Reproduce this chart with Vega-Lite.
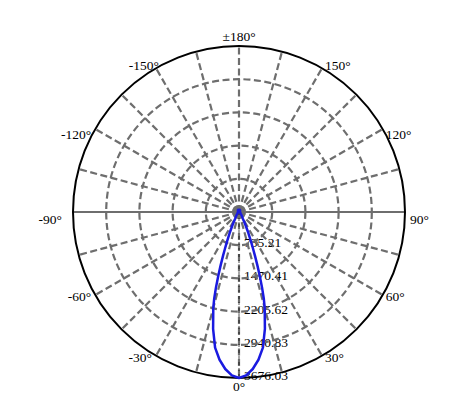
{
  "$schema": "https://vega.github.io/schema/vega-lite/v6.json",
  "description": "Polar luminous intensity distribution curve.",
  "width": 332,
  "height": 332,
  "autosize": "none",
  "padding": {"left": 73, "top": 46, "right": 71, "bottom": 39},
  "background": "white",
  "config": {"view": {"stroke": null}, "font": "Liberation Serif", "text": {"font": "Liberation Serif"}},
  "datasets": {
    "rings": [
      {"r": 735.21, "label": "735.21"},
      {"r": 1470.41, "label": "1470.41"},
      {"r": 2205.62, "label": "2205.62"},
      {"r": 2940.83, "label": "2940.83"},
      {"r": 3676.03, "label": "3676.03"}
    ],
    "spokes": [
      {"a": -165}, {"a": -150}, {"a": -135}, {"a": -120}, {"a": -105}, {"a": -90},
      {"a": -75}, {"a": -60}, {"a": -45}, {"a": -30}, {"a": -15}, {"a": 0},
      {"a": 15}, {"a": 30}, {"a": 45}, {"a": 60}, {"a": 75}, {"a": 90},
      {"a": 105}, {"a": 120}, {"a": 135}, {"a": 150}, {"a": 165}, {"a": 180}
    ],
    "angleLabels": [
      {"a": 180, "label": "±180°"},
      {"a": 150, "label": "150°"},
      {"a": 120, "label": "120°"},
      {"a": 90, "label": "90°"},
      {"a": 60, "label": "60°"},
      {"a": 30, "label": "30°"},
      {"a": 0, "label": "0°"},
      {"a": -30, "label": "-30°"},
      {"a": -60, "label": "-60°"},
      {"a": -90, "label": "-90°"},
      {"a": -120, "label": "-120°"},
      {"a": -150, "label": "-150°"}
    ],
    "curve": [
      {"a": -180, "I": 60}, {"a": -165, "I": 55}, {"a": -150, "I": 45},
      {"a": -135, "I": 35}, {"a": -120, "I": 25}, {"a": -105, "I": 20},
      {"a": -90, "I": 20}, {"a": -75, "I": 25}, {"a": -60, "I": 35},
      {"a": -45, "I": 55}, {"a": -40, "I": 75}, {"a": -35, "I": 110},
      {"a": -30, "I": 170}, {"a": -28, "I": 240}, {"a": -26, "I": 350},
      {"a": -24, "I": 510}, {"a": -22, "I": 720}, {"a": -21, "I": 860},
      {"a": -20, "I": 1040}, {"a": -19, "I": 1250}, {"a": -18, "I": 1480},
      {"a": -17, "I": 1740}, {"a": -16, "I": 1990}, {"a": -15, "I": 2200},
      {"a": -12.5, "I": 2650}, {"a": -10, "I": 3050}, {"a": -7.5, "I": 3300},
      {"a": -5, "I": 3490}, {"a": -2.5, "I": 3620}, {"a": 0, "I": 3676.03},
      {"a": 2.5, "I": 3620}, {"a": 5, "I": 3490}, {"a": 7.5, "I": 3300},
      {"a": 10, "I": 3050}, {"a": 12.5, "I": 2650}, {"a": 15, "I": 2200},
      {"a": 16, "I": 1990}, {"a": 17, "I": 1740}, {"a": 18, "I": 1480},
      {"a": 19, "I": 1250}, {"a": 20, "I": 1040}, {"a": 21, "I": 860},
      {"a": 22, "I": 720}, {"a": 24, "I": 510}, {"a": 26, "I": 350},
      {"a": 28, "I": 240}, {"a": 30, "I": 170}, {"a": 35, "I": 110},
      {"a": 40, "I": 75}, {"a": 45, "I": 55}, {"a": 60, "I": 35},
      {"a": 75, "I": 25}, {"a": 90, "I": 20}, {"a": 105, "I": 20},
      {"a": 120, "I": 25}, {"a": 135, "I": 35}, {"a": 150, "I": 45},
      {"a": 165, "I": 55}, {"a": 180, "I": 60}
    ]
  },
  "layer": [
    {
      "data": {"name": "rings"},
      "transform": [
        {"calculate": "0", "as": "cx"},
        {"calculate": "-datum.r", "as": "y"}
      ],
      "mark": {"type": "text", "font": "Liberation Serif", "align": "left", "baseline": "middle", "dx": 5, "dy": -2, "fontSize": 13.5, "color": "black"},
      "encoding": {
        "x": {"field": "cx", "type": "quantitative", "scale": {"domain": [-3676.03, 3676.03], "nice": false, "zero": false}, "axis": null},
        "y": {"field": "y", "type": "quantitative", "scale": {"domain": [-3676.03, 3676.03], "nice": false, "zero": false}, "axis": null},
        "text": {"field": "label", "type": "nominal"}
      }
    },
    {
      "data": {"name": "rings"},
      "transform": [
        {"filter": "datum.r < 3676"},
        {"calculate": "0", "as": "cx"}
      ],
      "mark": {"type": "point", "shape": "circle", "filled": false, "color": "#6e6e6e", "strokeWidth": 2.2, "strokeDash": [7, 3.5], "opacity": 1},
      "encoding": {
        "x": {"field": "cx", "type": "quantitative"},
        "y": {"field": "cx", "type": "quantitative"},
        "size": {"field": "r", "type": "quantitative", "scale": {"type": "pow", "exponent": 2, "domain": [0, 3676.03], "range": [0, 110224]}, "legend": null}
      }
    },
    {
      "data": {"name": "spokes"},
      "transform": [
        {"filter": "abs(datum.a) != 90"},
        {"calculate": "0", "as": "cx"},
        {"calculate": "3676.03 * sin(datum.a * PI / 180)", "as": "x2"},
        {"calculate": "-3676.03 * cos(datum.a * PI / 180)", "as": "y2"}
      ],
      "mark": {"type": "rule", "color": "#6e6e6e", "strokeWidth": 2.2, "strokeDash": [7, 3.5]},
      "encoding": {
        "x": {"field": "cx", "type": "quantitative"},
        "y": {"field": "cx", "type": "quantitative"},
        "x2": {"field": "x2"},
        "y2": {"field": "y2"}
      }
    },
    {
      "data": {"name": "spokes"},
      "transform": [
        {"filter": "abs(datum.a) == 90"},
        {"calculate": "0", "as": "cx"},
        {"calculate": "3676.03 * sin(datum.a * PI / 180)", "as": "x2"}
      ],
      "mark": {"type": "rule", "color": "#6e6e6e", "strokeWidth": 2.2},
      "encoding": {
        "x": {"field": "cx", "type": "quantitative"},
        "y": {"field": "cx", "type": "quantitative"},
        "x2": {"field": "x2"},
        "y2": {"field": "cx"}
      }
    },
    {
      "data": {"name": "spokes"},
      "transform": [
        {"filter": "datum.a == 0"},
        {"calculate": "0", "as": "cx"},
        {"calculate": "-3676.03 * cos(datum.a * PI / 180)", "as": "y2"}
      ],
      "mark": {"type": "rule", "color": "black", "strokeWidth": 0.7, "strokeDash": [3, 3]},
      "encoding": {
        "x": {"field": "cx", "type": "quantitative"},
        "y": {"field": "cx", "type": "quantitative"},
        "x2": {"field": "cx"},
        "y2": {"field": "y2"}
      }
    },
    {
      "data": {"name": "rings"},
      "transform": [
        {"filter": "datum.r >= 3676"},
        {"calculate": "0", "as": "cx"}
      ],
      "mark": {"type": "point", "shape": "circle", "filled": false, "color": "black", "strokeWidth": 2, "opacity": 1},
      "encoding": {
        "x": {"field": "cx", "type": "quantitative"},
        "y": {"field": "cx", "type": "quantitative"},
        "size": {"field": "r", "type": "quantitative", "scale": {"type": "pow", "exponent": 2, "domain": [0, 3676.03], "range": [0, 110224]}, "legend": null}
      }
    },
    {
      "data": {"name": "angleLabels"},
      "transform": [
        {"calculate": "3676.03 * sin(datum.a * PI / 180)", "as": "x"},
        {"calculate": "-3676.03 * cos(datum.a * PI / 180)", "as": "y"}
      ],
      "mark": {
        "type": "text",
        "font": "Liberation Serif",
        "fontSize": 13.5,
        "color": "black",
        "align": {"expr": "datum.a == 0 || abs(datum.a) == 180 ? 'center' : datum.a > 0 ? 'left' : 'right'"},
        "baseline": {"expr": "abs(datum.a) == 180 ? 'bottom' : datum.a == 0 ? 'top' : 'middle'"},
        "dx": {"expr": "datum.a == 0 || abs(datum.a) == 180 ? 0 : datum.a == 90 ? 5 : datum.a == -90 ? -11 : datum.a == -150 ? 3 : datum.a > 0 ? 3 : -4"},
        "dy": {"expr": "abs(datum.a) == 180 ? -2 : datum.a == 0 ? 2 : abs(datum.a) == 90 ? 8 : abs(datum.a) == 120 ? 6 : abs(datum.a) == 150 ? -2 : 2"}
      },
      "encoding": {
        "x": {"field": "x", "type": "quantitative"},
        "y": {"field": "y", "type": "quantitative"},
        "text": {"field": "label", "type": "nominal"}
      }
    },
    {
      "data": {"name": "curve"},
      "transform": [
        {"calculate": "datum.I * sin(datum.a * PI / 180)", "as": "x"},
        {"calculate": "-datum.I * cos(datum.a * PI / 180)", "as": "y"}
      ],
      "mark": {"type": "line", "color": "#1a1ae0", "strokeWidth": 2.5, "strokeJoin": "round"},
      "encoding": {
        "x": {"field": "x", "type": "quantitative"},
        "y": {"field": "y", "type": "quantitative"},
        "order": {"field": "a", "type": "quantitative"}
      }
    }
  ]
}
